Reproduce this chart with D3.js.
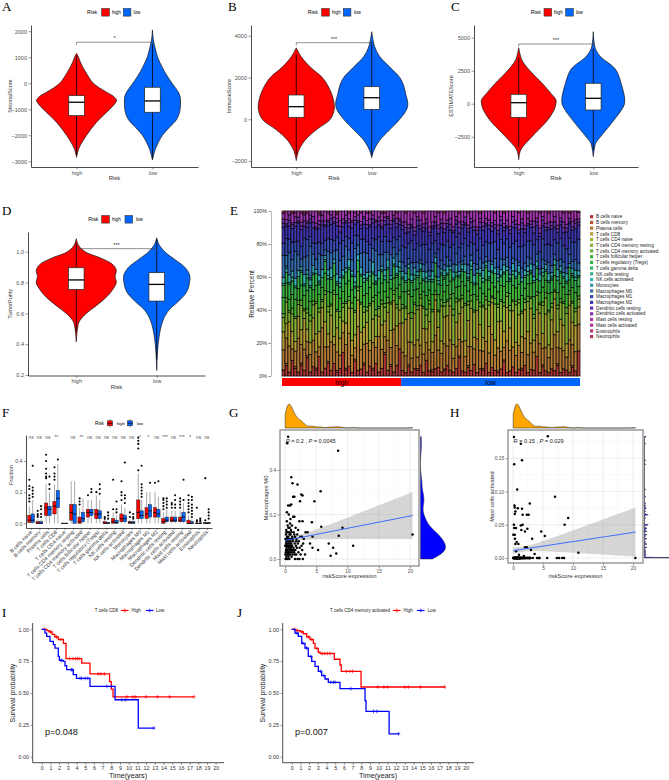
<!DOCTYPE html>
<html><head><meta charset="utf-8">
<script src="https://cdn.jsdelivr.net/npm/d3@7"></script>
<style>body{margin:0;background:#fff}svg{display:block}</style>
</head><body>
<svg id="c" width="669" height="780"></svg>
<script>
// ================= DATA =================
const riskGroups = ["high", "low"];
// violin profiles: [value, relative density]
const stromalDensHigh = [[-2850,0],[-2500,0.06],[-2000,0.25],[-1500,0.5],[-1000,0.83],[-800,0.95],[-650,1],[-500,0.92],[-300,0.7],[0,0.42],[300,0.28],[500,0.2],[800,0.1],[1000,0.05],[1150,0]];
const stromalDensLow = [[-2950,0],[-2500,0.08],[-2000,0.25],[-1700,0.42],[-1400,0.6],[-1100,0.68],[-800,0.7],[-500,0.69],[-300,0.63],[0,0.49],[300,0.36],[600,0.25],[1000,0.13],[1400,0.06],[1700,0.02],[2050,0]];
const immuneDensHigh = [[-1975,0],[-1500,0.06],[-1000,0.22],[-500,0.5],[0,0.85],[500,0.95],[1000,0.92],[1500,0.82],[2000,0.65],[2500,0.35],[3000,0.12],[3420,0]];
const immuneDensLow = [[-1830,0],[-1500,0.05],[-1000,0.2],[-500,0.45],[0,0.7],[500,0.88],[800,0.9],[1200,0.85],[1600,0.8],[2000,0.7],[2500,0.45],[3000,0.2],[3500,0.07],[4190,0]];
const estimateDensHigh = [[-4240,0],[-3500,0.05],[-2500,0.33],[-1500,0.65],[-1000,0.78],[-500,0.88],[0,0.93],[300,0.93],[800,0.8],[1500,0.6],[2500,0.28],[3300,0.08],[4240,0]];
const estimateDensLow = [[-4000,0],[-3000,0.06],[-2500,0.18],[-1500,0.45],[-500,0.7],[0,0.78],[500,0.78],[1500,0.7],[2500,0.58],[3000,0.42],[3500,0.2],[4200,0.05],[5450,0]];
const purityDensHigh = [[0.415,0],[0.5,0.03],[0.55,0.08],[0.6,0.25],[0.65,0.5],[0.7,0.73],[0.75,0.9],[0.8,1],[0.84,0.97],[0.88,1],[0.92,0.9],[0.96,0.6],[1.0,0.22],[1.04,0.06],[1.085,0]];
const purityDensLow = [[0.23,0],[0.35,0.02],[0.45,0.06],[0.55,0.15],[0.62,0.3],[0.68,0.55],[0.74,0.75],[0.8,0.82],[0.85,0.82],[0.9,0.7],[0.95,0.45],[1.0,0.2],[1.05,0.05],[1.09,0]];
// boxes: [q1, median, q3, lower whisker, upper whisker]
const stromalBoxHigh = [-1246,-731,-477,-2750,1050];
const stromalBoxLow = [-1115,-680,-154,-2900,1500];
const immuneBoxHigh = [96,604,1163,-1700,3100];
const immuneBoxLow = [478,1033,1560,-1700,3700];
const estimateBoxHigh = [-1030,76,712,-3300,3500];
const estimateBoxLow = [-477,409,1545,-3500,4200];
const purityBoxHigh = [0.755,0.817,0.896,0.48,1.06];
const purityBoxLow = [0.68,0.788,0.864,0.3,1.08];
const stromalTicks = [-3000,-2000,-1000,0,1000,2000];
const immuneTicks = [-2000,0,2000,4000];
const estimateTicks = [-2500,0,2500,5000];
const purityTicks = [0.2,0.4,0.6,0.8,1.0];
const scoreSig = ["*","***","***","***"];
const scoreBracket = [1577,3665,4523,1.02];

// E: CIBERSORT fractions (percent, base-36 digit per cell type)
const cellTypes = ["B cells naive","B cells memory","Plasma cells","T cells CD8","T cells CD4 naive","T cells CD4 memory resting","T cells CD4 memory activated","T cells follicular helper","T cells regulatory (Tregs)","T cells gamma delta","NK cells resting","NK cells activated","Monocytes","Macrophages M0","Macrophages M1","Macrophages M2","Dendritic cells resting","Dendritic cells activated","Mast cells resting","Mast cells activated","Eosinophils","Neutrophils"];
const eHighSamples = [
"30a9 07286 0130 b68 2230 01","51c7 0a275 0021 586 1240 00","20ed 05168 0140 c77 3320 00","8069 09377 0230 697 2150 01",
"4185 0c196 1040 e58 2321 00","20hb 06266 0030 879 1230 00","61a8 0d387 0120 479 2250 10","30bg 04175 0150 9a6 3311 00",
"9176 08296 0220 786 2140 01","2096 0b377 0131 g57 2220 00","50ec 07268 0140 668 3330 00","3189 0f186 0020 587 1260 00",
"a058 0a275 1130 b67 2231 01","20ma 03165 0040 769 2320 00","40bd 0e296 0120 357 1250 00","7187 0c387 0230 a77 2140 10",
"30fe 05167 0150 878 3220 00","6094 0k276 0020 458 1230 00","21ad 09185 1140 d76 2221 01","4079 0b376 0230 996 3350 00",
"c0a6 07267 0130 787 2240 00","31cb 0a196 0020 b57 1320 00","50hd 04286 0140 566 2230 01","2098 0h377 0120 698 3150 00",
"8167 0c175 1230 f76 2221 00","30ne 05286 0030 557 1320 00","40ba 0g196 0140 886 2250 10","61a9 08367 0220 c78 3130 00",
"20fb 06277 0130 a67 2241 00","5085 0i186 0020 689 1330 01","31dc 09275 0150 758 2220 00","7096 0c386 1130 e67 3150 00",
"20ia 04177 0040 896 2230 00","40ad 0b296 0120 677 1341 00","b188 07266 0230 986 2220 01","30gf 05387 0140 469 3130 00",
"5199 0e175 0020 b77 2250 00","20le 03266 0130 558 1220 00","60bb 0a296 1140 787 2330 10","e0d7 06167 0230 676 2140 00"];
const eLowSamples = [
"30ag 08277 0130 599 2260 00","209k 06185 0140 4a8 3350 01","51cf 0a266 0020 386 2270 00","2078 0c387 0130 6b7 1340 00",
"40dh 05176 0240 378 2280 10","3169 0g296 0120 5a9 3230 00","60bm 04267 0130 289 2350 00","20ae 0b186 1040 4b7 2260 01",
"8097 07377 0230 598 3240 00","30cg 0a265 0120 3c8 2390 00","2185 0e176 0140 497 1250 00","40ij 03287 0030 278 2330 00",
"50ad 09196 0220 6a9 3270 10","2096 0h375 0120 488 2240 00","31ef 06267 1130 3b7 2360 01","60bh 08186 0140 598 2250 00",
"30gi 04276 0020 379 3340 00","2077 0f387 0130 4a6 1280 00","40cd 0b266 0240 697 2230 00","a19e 07175 0120 588 3350 01",
"30hk 05286 0130 2a9 2260 00","2088 0i197 0040 497 1330 00","51bf 09266 1120 5b8 2270 10","30dl 04377 0230 378 3240 00",
"6086 0d185 0140 6a7 2350 00","20jg 06276 0020 389 2290 00","40ae 0a287 0130 5b6 3230 01","3197 0g166 0240 498 2260 00",
"70ci 05297 0120 389 1340 00","20bf 0c275 1130 6a8 2350 00","50kj 03186 0140 2b7 3270 00","3088 0j367 0030 597 2240 10",
"21df 08276 0220 4a9 2380 00","40ah 0b185 0130 6b8 3230 00","8179 0e297 0140 397 2260 01","20hi 06266 0020 5a6 1350 00",
"30cd 0a377 1120 4c8 2290 00","50bk 05186 0240 389 3330 00","2097 0k275 0130 6a7 2250 00","40ei 07296 0140 298 2370 10",
"3188 0c187 0020 5b9 3240 00","60fg 04266 0130 4a7 2280 00","20ad 0h375 0230 599 1330 01","40gl 06186 1140 3b8 2260 00",
"3096 0b297 0120 6a6 3350 00","b0ce 08276 0130 488 2240 00","20hi 05167 0040 3a9 2390 10","5198 0f286 0220 5b7 3230 00",
"30dj 09375 0130 298 2270 00","2087 0i196 0140 6a8 1350 01","40bg 07267 1120 4b9 2260 00","30kk 04186 0030 387 3330 00",
"6199 0d277 0240 5a6 2280 00","20eh 0a296 0130 4c8 2240 00","40ae 0c185 0120 697 3350 10","3077 0g376 0140 3a9 2270 00",
"20ij 06267 0020 598 1230 01","51cd 0b186 1130 4b7 2360 00","30bf 08297 0240 6a8 3250 00","g0hb 05266 0130 5f9 2240 10"];

// F: box stats per cell type [q1, median, q3, lower whisker, upper whisker]
const fSig = ["ns","ns","ns","**","","ns","**","ns","ns","ns","ns","ns","ns","*","*","ns","***","ns","***","*","ns","ns"];
const fHighStats = [[0.005,0.02,0.05,0,0.11],[0,0,0.01,0,0.025],[0.05,0.1,0.13,0,0.25],[0.06,0.11,0.14,0,0.25],[0,0,0,0,0],[0.02,0.07,0.12,0,0.27],[0,0.01,0.04,0,0.1],[0.04,0.07,0.09,0,0.15],[0.03,0.06,0.09,0,0.18],[0,0,0.01,0,0.025],[0,0.01,0.03,0,0.07],[0.01,0.03,0.06,0,0.12],[0,0.004,0.01,0,0.025],[0.03,0.07,0.15,0,0.32],[0.03,0.06,0.1,0,0.2],[0.04,0.07,0.1,0,0.2],[0,0.01,0.03,0,0.07],[0.01,0.02,0.04,0,0.08],[0.01,0.02,0.04,0,0.08],[0,0,0.02,0,0.05],[0,0,0,0,0.005],[0,0,0.005,0,0.012]];
const fLowStats = [[0.005,0.02,0.06,0,0.15],[0,0,0.01,0,0.025],[0.05,0.09,0.11,0,0.2],[0.1,0.16,0.21,0,0.38],[0,0,0,0,0],[0,0.06,0.12,0,0.27],[0.01,0.03,0.07,0,0.16],[0.05,0.07,0.09,0,0.15],[0.03,0.06,0.08,0,0.15],[0,0,0.005,0,0.012],[0,0.005,0.02,0,0.05],[0.01,0.03,0.05,0,0.1],[0,0.003,0.01,0,0.02],[0.03,0.05,0.08,0,0.15],[0.04,0.08,0.12,0,0.2],[0.04,0.06,0.09,0,0.17],[0.01,0.02,0.04,0,0.09],[0.01,0.02,0.04,0,0.08],[0.01,0.04,0.07,0,0.13],[0,0,0.01,0,0.025],[0,0,0,0,0.003],[0,0,0.005,0,0.012]];
const fHighOut = [[0.14,0.16,0.18,0.22,0.24,0.28],[0.04,0.05,0.06,0.08],[0.29,0.3,0.32,0.35,0.4,0.44],[0.28,0.3,0.32,0.36],[],[],[0.12,0.14,0.16],[0.18],[0.2],[0.03,0.04],[0.09,0.28],[0.15,0.18,0.2,0.27],[0.04,0.07],[0.34,0.48,0.51,0.53,0.55],[],[0.26],[0.09,0.11,0.13,0.15,0.16],[0.1,0.12,0.13],[0.1,0.12,0.14,0.16],[0.07,0.09,0.11,0.13,0.15,0.18],[0.01,0.02,0.1],[0.02,0.29]];
const fLowOut = [[0.17,0.19,0.21,0.23,0.37],[0.04,0.06,0.09,0.11],[0.22,0.25,0.3],[0.41],[],[],[],[0.2,0.22],[0.19,0.22,0.25],[0.03,0.05,0.07],[0.07,0.09,0.14],[0.13,0.16,0.18,0.39],[0.03,0.04,0.06],[0.17,0.19,0.21,0.23,0.25,0.37],[0.26],[0.27],[0.1,0.12,0.14,0.16],[0.1,0.12,0.15,0.18],[0.15,0.28],[0.04,0.06,0.08,0.1,0.12,0.15,0.17],[0.01,0.02,0.03],[0.03,0.05,0.07,0.09]];

// G/H: per-sample riskScore, Macrophages M0, Mast cells activated
const riskScore = [20.4,10.9,9.2,8.6,8.5,8.2,7.7,7.3,7.0,5.8,5.7,5.3,4.7,4.4,4.4,4.3,4.0,3.6,3.3,3.2,3.0,
0.05,0.1,0.12,0.15,0.17,0.2,0.2,0.22,0.25,0.27,0.3,0.3,0.3,0.32,0.35,0.35,0.38,0.4,0.4,0.42,
0.45,0.5,0.5,0.5,0.52,0.55,0.58,0.6,0.6,0.62,0.65,0.68,0.7,0.72,0.75,0.78,0.8,0.8,0.82,0.85,
0.88,0.9,0.92,0.95,0.98,1.0,1.0,1.02,1.05,1.08,1.1,1.12,1.15,1.2,1.22,1.25,1.3,1.3,1.35,1.4,
1.45,1.5,1.5,1.55,1.6,1.6,1.65,1.7,1.75,1.8,1.85,1.9,1.95,2.0,2.0,2.05,2.1,2.15,2.2,2.3,
2.3,2.35,2.4,2.45,2.5,2.6,2.65,2.7,2.75,2.8,2.8,2.85,2.9,0.08,0.14,0.18,0.24,0.28,0.33,0.36,
0.44,0.47,0.53,0.57,0.63,0.67,0.73,0.77,0.83,0.87,0.93,1.03,1.13,1.18,1.28,1.38,1.48,1.58,1.78,0.03];
const macrophagesM0 = [0.11,0.06,0.14,0.105,0.487,0.025,0.05,0.015,0.07,0.145,0.305,0.04,0.26,0.05,0.1,0.165,0.07,0.12,0.12,0.02,0.09,
0.02,0.0,0.06,0.11,0.04,0.08,0.13,0.01,0.05,0.09,0.21,0.17,0.03,0.07,0.52,0.0,0.12,0.04,0.06,0.15,
0.02,0.55,0.24,0.08,0.1,0.01,0.05,0.2,0.03,0.07,0.12,0.0,0.09,0.04,0.14,0.06,0.24,0.16,0.02,0.08,
0.11,0.05,0.03,0.13,0.07,0.367,0.245,0.09,0.01,0.06,0.15,0.04,0.1,0.34,0.02,0.08,0.28,0.19,0.05,0.12,
0.03,0.28,0.19,0.07,0.0,0.1,0.04,0.14,0.06,0.02,0.09,0.05,0.11,0.335,0.0,0.07,0.13,0.03,0.08,0.17,
0.0,0.05,0.26,0.1,0.02,0.29,0.06,0.1,0.04,0.285,0.17,0.0,0.07,0.09,0.03,0.07,0.12,0.02,0.1,0.06,
0.09,0.03,0.14,0.06,0.09,0.02,0.11,0.04,0.07,0.18,0.05,0.12,0.06,0.03,0.09,0.04,0.11,0.02,0.08,0.06];
const mastActivated = [0,0.008,0.06,0.05,0,0,0,0,0.092,0.183,0,0.033,0.04,0,0,0,0,0.006,0,0.029,0.012,
0.035,0,0,0.05,0.182,0.141,0.045,0,0.079,0,0.076,0.066,0.035,0.029,0,0,0,0.07,0.021,0,
0,0.045,0,0,0.01,0,0,0.024,0,0,0,0,0.103,0,0,0,0.075,0,0,0,
0,0.021,0,0,0,0,0.005,0,0,0,0,0,0,0,0,0,0.172,0.049,0,0.042,
0,0.147,0.074,0,0.065,0.05,0,0,0,0.003,0,0,0,0.04,0.016,0,0,0,0,0.065,
0.016,0,0.044,0,0,0.065,0,0,0,0.082,0,0,0,0,0,0,0,0,0,0,
0,0,0,0,0,0,0,0,0,0,0,0,0,0,0,0,0,0,0,0];
// linear fits: [intercept, slope, mean x, se at mean, se of slope]
const m0Fit = [0.083,0.0055,1.6,0.006,0.00283];
const mastFit = [0.011,0.00137,1.6,0.002,0.00099];
const m0Label = ["0.2","0.0045"];
const mastLabel = ["0.15","0.029"];

// I/J: Kaplan-Meier steps
const cd8HighTime = [0,0.6,0.85,1.2,1.5,1.9,2.5,2.8,4.6,5.55,7.8,8.0,8.2];
const cd8HighSurv = [1,0.99,0.98,0.96,0.94,0.92,0.89,0.77,0.735,0.65,0.59,0.53,0.47];
const cd8HighEnd = 17.5;
const cd8HighCens = [0.3,1.0,1.7,2.2,3.2,3.6,3.9,4.1,4.3,6.5,6.8,7.2,9.8,10.5,10.8,12.0,13.3,14.7,17.5];
const cd8LowTime = [0,0.38,0.57,0.95,1.34,1.53,1.91,2.03,2.49,2.68,2.87,3.63,4.0,5.55,8.43,11.1];
const cd8LowSurv = [1,0.97,0.944,0.905,0.879,0.853,0.787,0.756,0.748,0.714,0.683,0.644,0.615,0.552,0.447,0.225];
const cd8LowEnd = 12.9;
const cd8LowCens = [2.2,2.3,3.4,3.5,4.4,4.6,5.0,5.3,7.5,8.0,9.2,9.6,12.9];
const cd4HighTime = [0,0.5,1.0,1.34,1.72,2.1,2.49,2.68,3.06,3.26,4.9,5.55,5.7,7.97];
const cd4HighSurv = [1,0.99,0.98,0.965,0.94,0.92,0.89,0.85,0.82,0.81,0.765,0.72,0.67,0.547];
const cd4HighEnd = 17.6;
const cd4HighCens = [0.3,0.7,1.2,1.9,2.3,2.9,3.5,3.8,4.1,4.4,6.3,6.7,7.0,9.9,10.6,11.0,13.0,13.4,14.8,17.6];
const cd4LowTime = [0,0.38,0.76,1.15,1.53,1.91,2.3,2.68,3.06,3.45,3.83,4.21,5.55,8.43,8.54,11.2];
const cd4LowSurv = [1,0.97,0.944,0.89,0.853,0.787,0.748,0.709,0.67,0.637,0.61,0.584,0.534,0.44,0.356,0.18];
const cd4LowEnd = 12.3;
const cd4LowCens = [0.6,1.3,1.7,2.2,3.3,3.7,4.5,4.8,5.0,6.8,9.4,9.8,12.3];
const kmYears = d3.range(0, 21);
const kmTicksY = [0,0.25,0.5,0.75,1];

// ================= DRAW =================
const svg = d3.select("#c");
const SANS = '"Liberation Sans", Arial, Helvetica, sans-serif';
const SERIF = '"Liberation Serif", "Times New Roman", serif';
const RED = "#FF0000", BLUE = "#0066FF";
svg.append("defs").append("clipPath").attr("id", "page").append("rect").attr("width", 669).attr("height", 780);

function txt(g, x, y, s, o = {}) {
  const t = g.append("text").attr("x", x).attr("y", y).text(s)
    .attr("font-family", o.family || SANS).attr("font-size", o.size || 5.5).attr("fill", o.fill || "#000");
  if (o.anchor) t.attr("text-anchor", o.anchor);
  if (o.rotate != null) t.attr("transform", `rotate(${o.rotate},${x},${y})`);
  if (o.weight) t.attr("font-weight", o.weight);
  return t;
}
function styleAxis(g, size, col) {
  g.select(".domain").attr("stroke", "#000").attr("stroke-width", 0.7);
  g.selectAll(".tick line").attr("stroke", "#333").attr("stroke-width", 0.5);
  g.selectAll(".tick text").attr("font-family", SANS).attr("font-size", size || 5.5).attr("fill", col || "#4d4d4d");
}
function letter(t, x, y) { txt(svg, x, y, t, { family: SERIF, size: 13 }); }

function riskLegend(g, x, y, keys) {
  txt(g, keys[0], y + 2, "Risk", { size: 5.2 });
  g.append("rect").attr("x", keys[1]).attr("y", y - 3.8).attr("width", 7.6).attr("height", 7.6).attr("fill", RED).attr("stroke", "#333").attr("stroke-width", 0.6);
  txt(g, keys[2], y + 2, "high", { size: 4.6 });
  g.append("rect").attr("x", keys[3]).attr("y", y - 3.8).attr("width", 7.6).attr("height", 7.6).attr("fill", BLUE).attr("stroke", "#333").attr("stroke-width", 0.6);
  txt(g, keys[4], y + 2, "low", { size: 4.6 });
}

function violinPanel(c) {
  const g = svg.append("g");
  const x = d3.scalePoint().domain(riskGroups).range([c.x0, c.x1]).padding(0.6);
  const y = d3.scaleLinear().domain(c.domain).range([c.yBot, c.yTop]);
  const wpx = 40;
  const area = d3.area().curve(d3.curveCatmullRom).y(d => y(d[0]));
  [[c.densHigh, "high", RED, c.boxHigh], [c.densLow, "low", BLUE, c.boxLow]].forEach(([dens, grp, col, b]) => {
    const cx = x(grp);
    g.append("path").datum(dens).attr("d", area.x0(d => cx - d[1] * wpx).x1(d => cx + d[1] * wpx))
      .attr("fill", col).attr("stroke", "#111").attr("stroke-width", 0.7);
    const [q1, med, q3, lo, hi] = b;
    g.append("line").attr("x1", cx).attr("x2", cx).attr("y1", y(lo)).attr("y2", y(hi)).attr("stroke", "#000").attr("stroke-width", 0.8);
    g.append("rect").attr("x", cx - 7.8).attr("width", 15.6).attr("y", y(q3)).attr("height", y(q1) - y(q3))
      .attr("fill", "#fff").attr("stroke", "#222").attr("stroke-width", 0.7);
    g.append("line").attr("x1", cx - 7.8).attr("x2", cx + 7.8).attr("y1", y(med)).attr("y2", y(med)).attr("stroke", "#000").attr("stroke-width", 1.3);
  });
  const by = y(c.bracket);
  g.append("path").attr("d", `M${x("high")},${by + 2.6}V${by}H${x("low")}V${by + 2.6}`).attr("fill", "none").attr("stroke", "#444").attr("stroke-width", 0.6);
  txt(g, (x("high") + x("low")) / 2, by - 2, c.sig, { size: 5.5, anchor: "middle", fill: "#333" });
  const ya = g.append("g").attr("transform", `translate(${c.x0},0)`)
    .call(d3.axisLeft(y).tickValues(c.ticks).tickSize(2.5).tickSizeOuter(0).tickPadding(1.5).tickFormat(c.fmt));
  styleAxis(ya, 5.5);
  const xa = g.append("g").attr("transform", `translate(0,${c.yBot})`)
    .call(d3.axisBottom(x).tickSize(2.5).tickSizeOuter(0).tickPadding(1.5));
  styleAxis(xa, 5.5);
  txt(g, (c.x0 + c.x1) / 2, c.titleY, "Risk", { size: 6, anchor: "middle", fill: "#333" });
  txt(g, c.ytX, (c.yTop + c.yBot) / 2, c.ytitle, { size: 5.5, anchor: "middle", rotate: -90, fill: "#333" });
  riskLegend(g, 0, c.legY, c.legKeys);
}

letter("A", 2, 11); letter("B", 228, 11); letter("C", 451, 11); letter("D", 2, 215);
violinPanel({ x0: 31, x1: 198, yTop: 25, yBot: 167, domain: [-3220, 2240], ticks: stromalTicks, fmt: d3.format("d"),
  densHigh: stromalDensHigh, densLow: stromalDensLow, boxHigh: stromalBoxHigh, boxLow: stromalBoxLow,
  bracket: scoreBracket[0], sig: scoreSig[0], titleY: 180, ytX: 12, ytitle: "StromalScore",
  legY: 12.3, legKeys: [87, 101.7, 112, 123.3, 133.5] });
violinPanel({ x0: 251, x1: 417, yTop: 25, yBot: 167, domain: [-2282, 4512], ticks: immuneTicks, fmt: d3.format("d"),
  densHigh: immuneDensHigh, densLow: immuneDensLow, boxHigh: immuneBoxHigh, boxLow: immuneBoxLow,
  bracket: scoreBracket[1], sig: scoreSig[1], titleY: 180, ytX: 231, ytitle: "ImmuneScore",
  legY: 12.3, legKeys: [307.7, 321.7, 332, 343.3, 354] });
violinPanel({ x0: 474, x1: 638, yTop: 25, yBot: 167, domain: [-4795, 5962], ticks: estimateTicks, fmt: d3.format("d"),
  densHigh: estimateDensHigh, densLow: estimateDensLow, boxHigh: estimateBoxHigh, boxLow: estimateBoxLow,
  bracket: scoreBracket[2], sig: scoreSig[2], titleY: 180, ytX: 453, ytitle: "ESTIMATEScore",
  legY: 12.3, legKeys: [530.7, 544, 554, 565.7, 576] });
violinPanel({ x0: 28, x1: 205, yTop: 232, yBot: 375.5, domain: [0.197, 1.128], ticks: purityTicks, fmt: d3.format(".1f"),
  densHigh: purityDensHigh, densLow: purityDensLow, boxHigh: purityBoxHigh, boxLow: purityBoxLow,
  bracket: scoreBracket[3], sig: scoreSig[3], titleY: 389, ytX: 12, ytitle: "TumorPurity",
  legY: 219.3, legKeys: [88.3, 101.7, 112, 125, 136] });

// ---------- E ----------
(function () {
  letter("E", 230, 215);
  const g = svg.append("g");
  const parse = s => { const v = s.replace(/\s/g, "").split("").map(ch => parseInt(ch, 36)); const sum = d3.sum(v); return v.map(d => d / sum); };
  const rows = eHighSamples.concat(eLowSamples).map(parse);
  const nHigh = eHighSamples.length;
  const x = d3.scaleBand().domain(d3.range(rows.length)).range([282, 580]).padding(0);
  const y = d3.scaleLinear().domain([0, 1]).range([376, 211]);
  const col = i => d3.hsl(i / 22 * 360, 0.538, 0.455).toString();
  const series = d3.stack().keys(d3.range(22))(rows);
  g.selectAll("g.layer").data(series).join("g").attr("fill", (d, i) => col(i))
    .selectAll("rect").data(d => d.map((p, j) => [p, j])).join("rect")
    .attr("x", d => x(d[1])).attr("width", x.bandwidth())
    .attr("y", d => y(d[0][1])).attr("height", d => Math.max(0, y(d[0][0]) - y(d[0][1])))
    .attr("stroke", "#000").attr("stroke-width", 0.9).attr("stroke-opacity", 0.8);
  const ya = g.append("g").attr("transform", "translate(271,0)")
    .call(d3.axisLeft(y).tickValues([0, 0.2, 0.4, 0.6, 0.8, 1]).tickFormat(d3.format(".0%")).tickSize(2.5).tickSizeOuter(0).tickPadding(1.5));
  styleAxis(ya, 5.3, "#333");
  ya.select(".domain").attr("stroke", "#999");
  txt(g, 254, 294, "Relative Percent", { size: 6.5, anchor: "middle", rotate: -90, fill: "#222" });
  g.append("rect").attr("x", x(0)).attr("width", x(nHigh) - x(0)).attr("y", 378).attr("height", 8).attr("fill", RED);
  g.append("rect").attr("x", x(nHigh)).attr("width", 580 - x(nHigh)).attr("y", 378).attr("height", 8).attr("fill", BLUE);
  txt(g, (x(0) + x(nHigh)) / 2, 385, "high", { size: 7, anchor: "middle" });
  txt(g, (x(nHigh) + 580) / 2, 385, "low", { size: 7, anchor: "middle" });
  cellTypes.forEach((ct, i) => {
    const yy = 216.7 + i * 5.71;
    g.append("rect").attr("x", 590).attr("y", yy - 1.6).attr("width", 3.2).attr("height", 3.2).attr("fill", col(i));
    txt(g, 596, yy + 1.7, ct, { size: 4.7, fill: "#222" });
  });
})();

// ---------- F ----------
(function () {
  letter("F", 2, 417);
  const g = svg.append("g");
  const x = d3.scalePoint().domain(cellTypes).range([26, 212]).padding(0.6);
  const step = x.step();
  const y = d3.scaleLinear().domain([-0.0302, 0.5671]).range([528, 435]);
  const bw = step * 0.4;
  cellTypes.forEach((ct, i) => {
    [[fHighStats[i], fHighOut[i], RED, -1], [fLowStats[i], fLowOut[i], BLUE, 1]].forEach(([s, out, colr, side]) => {
      const cx = x(ct) + side * step * 0.2;
      const [q1, med, q3, lo, hi] = s;
      g.append("line").attr("x1", cx).attr("x2", cx).attr("y1", y(lo)).attr("y2", y(hi)).attr("stroke", "#555").attr("stroke-width", 0.5);
      g.append("rect").attr("x", cx - bw / 2).attr("width", bw).attr("y", y(q3)).attr("height", Math.max(0.4, y(q1) - y(q3)))
        .attr("fill", colr).attr("stroke", "#222").attr("stroke-width", 0.5);
      g.append("line").attr("x1", cx - bw / 2).attr("x2", cx + bw / 2).attr("y1", y(med)).attr("y2", y(med)).attr("stroke", "#000").attr("stroke-width", 0.9);
      out.forEach(v => g.append("circle").attr("cx", cx).attr("cy", y(v)).attr("r", 1.05).attr("fill", "#000"));
    });
    txt(g, x(ct), 439, fSig[i], { size: 4.8, anchor: "middle", fill: "#555" });
  });
  const ya = g.append("g").attr("transform", "translate(26,0)")
    .call(d3.axisLeft(y).tickValues([0, 0.2, 0.4]).tickFormat(d3.format(".1f")).tickSize(2).tickSizeOuter(0).tickPadding(1.5));
  styleAxis(ya, 5.3);
  const xa = g.append("g").attr("transform", "translate(0,528)")
    .call(d3.axisBottom(x).tickSize(2).tickSizeOuter(0).tickFormat(""));
  styleAxis(xa, 5);
  cellTypes.forEach(ct => txt(g, x(ct) + 1.5, 532.5, ct, { size: 5.2, anchor: "end", rotate: -45, fill: "#333" }));
  txt(g, 13, 475, "Fraction", { size: 5.5, anchor: "middle", rotate: -90, fill: "#333" });
  txt(g, 95, 425, "Risk", { size: 4.5 });
  [[106.7, RED, "high", 116.7], [126.7, BLUE, "low", 136.7]].forEach(([kx, c, lab, tx]) => {
    g.append("line").attr("x1", kx + 3.3).attr("x2", kx + 3.3).attr("y1", 419).attr("y2", 427.5).attr("stroke", "#333").attr("stroke-width", 0.5);
    g.append("rect").attr("x", kx + 0.8).attr("y", 420.8).attr("width", 5).attr("height", 5).attr("fill", c).attr("stroke", "#222").attr("stroke-width", 0.5);
    g.append("line").attr("x1", kx + 0.8).attr("x2", kx + 5.8).attr("y1", 423.3).attr("y2", 423.3).attr("stroke", "#000").attr("stroke-width", 0.7);
    txt(g, tx, 425, lab, { size: 4.3 });
  });
})();

// ---------- G / H ----------
function kde(vals, bw, grid) {
  return grid.map(t => [t, d3.mean(vals, v => Math.exp(-0.5 * ((t - v) / bw) ** 2)) / (bw * Math.sqrt(2 * Math.PI))]);
}
function nrd0(v) {
  const s = v.slice().sort(d3.ascending);
  const sd = d3.deviation(s), iqr = (d3.quantile(s, 0.75) - d3.quantile(s, 0.25)) / 1.34;
  const lo = Math.min(sd, iqr > 0 ? iqr : sd);
  return 0.9 * lo * Math.pow(s.length, -0.2);
}
function scatterPanel(c) {
  const g = svg.append("g").attr("clip-path", "url(#page)");
  const x = d3.scaleLinear().domain(c.xd).range([c.px0, c.px1]);
  const y = d3.scaleLinear().domain(c.yd).range([c.py1, c.py0]);
  g.append("rect").attr("x", c.px0).attr("y", c.py0).attr("width", c.px1 - c.px0).attr("height", c.py1 - c.py0).attr("fill", "#fff");
  const xMinor = [2.5, 7.5, 12.5, 17.5], xMajor = [0, 5, 10, 15, 20];
  xMinor.forEach(v => g.append("line").attr("x1", x(v)).attr("x2", x(v)).attr("y1", c.py0).attr("y2", c.py1).attr("stroke", "#f0f0f0").attr("stroke-width", 0.4));
  c.yMinor.forEach(v => g.append("line").attr("y1", y(v)).attr("y2", y(v)).attr("x1", c.px0).attr("x2", c.px1).attr("stroke", "#f0f0f0").attr("stroke-width", 0.4));
  xMajor.forEach(v => g.append("line").attr("x1", x(v)).attr("x2", x(v)).attr("y1", c.py0).attr("y2", c.py1).attr("stroke", "#e2e2e2").attr("stroke-width", 0.6));
  c.yTicks.forEach(v => g.append("line").attr("y1", y(v)).attr("y2", y(v)).attr("x1", c.px0).attr("x2", c.px1).attr("stroke", "#e2e2e2").attr("stroke-width", 0.6));
  const [b0, b1, xm, se0, seb] = c.fit;
  const xmin = d3.min(riskScore), xmax = d3.max(riskScore);
  const xs = d3.range(0, 81).map(i => xmin + (xmax - xmin) * i / 80);
  const band = xs.map(v => { const f = b0 + b1 * v, h = 1.97 * Math.sqrt(se0 * se0 + ((v - xm) * seb) ** 2); return [v, f - h, f + h]; });
  g.append("path").datum(band).attr("d", d3.area().x(d => x(d[0])).y0(d => y(Math.max(c.yd[0], d[1]))).y1(d => y(d[2])))
    .attr("fill", "#999").attr("fill-opacity", 0.4);
  g.selectAll("circle.pt").data(riskScore).join("circle").attr("class", "pt")
    .attr("cx", d => x(d)).attr("cy", (d, i) => y(c.yv[i])).attr("r", 1.25).attr("fill", "#000");
  g.append("path").datum(xs).attr("d", d3.line().x(d => x(d)).y(d => y(b0 + b1 * d)))
    .attr("fill", "none").attr("stroke", "#3366FF").attr("stroke-width", 1);
  g.append("rect").attr("x", c.px0).attr("y", c.py0).attr("width", c.px1 - c.px0).attr("height", c.py1 - c.py0)
    .attr("fill", "none").attr("stroke", "#8a8a8a").attr("stroke-width", 1.3);
  const xa = g.append("g").attr("transform", `translate(0,${c.py1 + 0.6})`).call(d3.axisBottom(x).tickValues(xMajor).tickSize(2).tickSizeOuter(0).tickPadding(1.2));
  styleAxis(xa, 4.8); xa.select(".domain").remove();
  const ya = g.append("g").attr("transform", `translate(${c.px0 - 0.6},0)`).call(d3.axisLeft(y).tickValues(c.yTicks).tickFormat(c.yFmt).tickSize(2).tickSizeOuter(0).tickPadding(1.2));
  styleAxis(ya, 4.8); ya.select(".domain").remove();
  txt(g, (c.px0 + c.px1) / 2, 578, "riskScore expression", { size: 5.8, anchor: "middle", fill: "#333" });
  txt(g, c.ytX, (c.py0 + c.py1) / 2, c.ytitle, { size: 5.8, anchor: "middle", rotate: -90, fill: "#333" });
  const t = g.append("text").attr("x", x(0.1)).attr("y", 443).attr("font-family", SANS).attr("font-size", 5.6).attr("fill", "#222");
  t.append("tspan").attr("font-style", "italic").text("R");
  t.append("tspan").text(" = " + c.lab[0] + " , ");
  t.append("tspan").attr("font-style", "italic").text("P");
  t.append("tspan").text(" = " + c.lab[1]);
  // top marginal density of riskScore
  const bwX = nrd0(riskScore);
  const dx = kde(riskScore, bwX, d3.range(0, 201).map(i => xmin + (xmax - xmin) * i / 200));
  const hx = d3.scaleLinear().domain([0, d3.max(dx, d => d[1])]).range([0, 24]);
  g.append("path").datum(dx).attr("d", d3.area().x(d => x(d[0])).y0(428).y1(d => 428 - hx(d[1])))
    .attr("fill", "#FFA500").attr("stroke", "#222").attr("stroke-width", 0.5);
  // right marginal density
  const ymin = d3.min(c.yv), ymax = d3.max(c.yv);
  const bwY = nrd0(c.yv) * c.bwAdj;
  const dy = kde(c.yv, bwY, d3.range(0, 601).map(i => ymin + (ymax - ymin) * i / 600));
  const hy = d3.scaleLinear().domain([0, d3.max(dy, d => d[1])]).range([0, c.rightPeak]);
  g.append("path").datum(dy).attr("d", d3.area().y(d => y(d[0])).x0(c.px1 + 1.5).x1(d => c.px1 + 1.5 + hy(d[1])))
    .attr("fill", c.rightFill).attr("stroke", "#222").attr("stroke-width", 0.5);
}
letter("G", 229, 417); letter("H", 450, 417);
scatterPanel({ px0: 280, px1: 419, py0: 430, py1: 566, xd: [-0.8, 21.44], yd: [-0.0315, 0.5798], yv: macrophagesM0, fit: m0Fit, lab: m0Label,
  yTicks: [0, 0.2, 0.4], yMinor: [0.1, 0.3, 0.5], yFmt: d3.format(".1f"), ytX: 268, ytitle: "Macrophages M0", rightFill: "#0000FF", rightPeak: 25, bwAdj: 1 });
scatterPanel({ px0: 508, px1: 643, py0: 430, py1: 563, xd: [-0.833, 21.667], yd: [-0.0075, 0.1925], yv: mastActivated, fit: mastFit, lab: mastLabel,
  yTicks: [0, 0.05, 0.1, 0.15], yMinor: [0.025, 0.075, 0.125, 0.175], yFmt: d3.format(".2f"), ytX: 494, ytitle: "Mast cells activated", rightFill: "#0000FF", rightPeak: 120, bwAdj: 0.08 });

// ---------- I / J ----------
function kmPanel(c) {
  const g = svg.append("g").attr("transform", `translate(${c.dx},0)`);
  const x = d3.scaleLinear().domain([-1.034, 20.954]).range([32.7, 224]);
  const y = d3.scaleLinear().domain([-0.047, 1.0495]).range([762.7, 623]);
  const line = d3.line().curve(d3.curveStepAfter).x(d => x(d[0])).y(d => y(d[1]));
  c.curves.forEach(cv => {
    const pts = cv.t.map((t, i) => [t, cv.s[i]]);
    pts.push([cv.end, cv.s[cv.s.length - 1]]);
    g.append("path").datum(pts).attr("d", line).attr("fill", "none").attr("stroke", cv.col).attr("stroke-width", 1.3);
    cv.cens.forEach(t => {
      const sv = cv.s[Math.max(0, d3.bisectRight(cv.t, t) - 1)];
      const px = x(t), py = y(sv);
      g.append("path").attr("d", `M${px - 1.6},${py}H${px + 1.6}M${px},${py - 1.8}V${py + 1.8}`).attr("stroke", cv.col).attr("stroke-width", 0.7);
    });
  });
  const xa = g.append("g").attr("transform", "translate(0,762.7)").call(d3.axisBottom(x).tickValues(kmYears).tickSize(2.2).tickSizeOuter(0).tickPadding(1));
  styleAxis(xa, 5.4, "#333");
  xa.select(".domain").attr("d", "M32.7,0H224");
  const ya = g.append("g").attr("transform", "translate(32.7,0)").call(d3.axisLeft(y).tickValues(kmTicksY).tickFormat(d3.format(".2f")).tickSize(2.2).tickSizeOuter(0).tickPadding(1.5));
  styleAxis(ya, 5.4, "#333");
  ya.select(".domain").attr("d", "M0,623V762.7");
  txt(g, 128, 778, "Time(years)", { size: 7.2, anchor: "middle", fill: "#222" });
  txt(g, 15, 693, "Survival probability", { size: 7, anchor: "middle", rotate: -90, fill: "#222" });
  txt(g, 45, 735, c.p, { size: 9, fill: "#111" });
  const L = c.leg;
  txt(g, L[0], 612, c.title, { size: 4.5, anchor: "end", fill: "#222" });
  [[L[1], "#FF0000", "High", L[2]], [L[3], "#0000FF", "Low", L[4]]].forEach(([lx, col, lab, tx]) => {
    g.append("line").attr("x1", lx).attr("x2", lx + 7.5).attr("y1", 610.5).attr("y2", 610.5).attr("stroke", col).attr("stroke-width", 1.2);
    g.append("path").attr("d", `M${lx + 3.75},608.7V612.3`).attr("stroke", col).attr("stroke-width", 0.8);
    txt(g, tx, 612, lab, { size: 4.5, fill: "#222" });
  });
}
letter("I", 2, 617); letter("J", 237, 617);
kmPanel({ dx: 0, p: "p=0.048", title: "T cells CD8", leg: [118, 121, 131.5, 146, 156],
  curves: [{ t: cd8HighTime, s: cd8HighSurv, end: cd8HighEnd, cens: cd8HighCens, col: "#FF0000" },
           { t: cd8LowTime, s: cd8LowSurv, end: cd8LowEnd, cens: cd8LowCens, col: "#0000FF" }] });
kmPanel({ dx: 250, p: "p=0.007", title: "T cells CD4 memory activated", leg: [140, 143, 153.5, 167, 177.5],
  curves: [{ t: cd4HighTime, s: cd4HighSurv, end: cd4HighEnd, cens: cd4HighCens, col: "#FF0000" },
           { t: cd4LowTime, s: cd4LowSurv, end: cd4LowEnd, cens: cd4LowCens, col: "#0000FF" }] });
</script>
</body></html>
